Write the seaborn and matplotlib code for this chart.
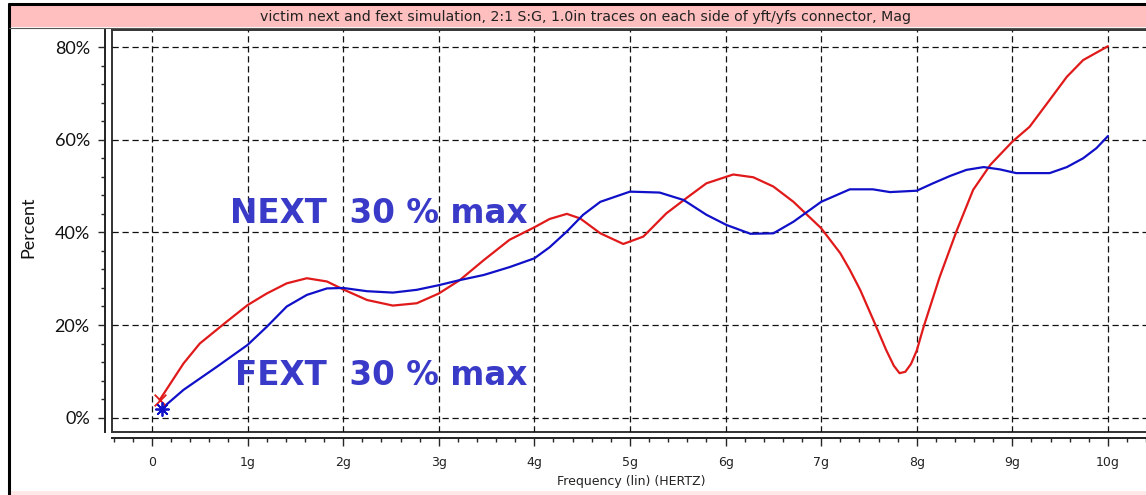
import numpy as np
import pandas as pd
import seaborn as sns
import matplotlib.pyplot as plt
from matplotlib.patches import Rectangle
from matplotlib.ticker import MultipleLocator, FuncFormatter

# curves (x in GHz, y in percent)
next_freq = [0.08, 0.33, 0.5, 0.78, 1.0, 1.2, 1.41, 1.62, 1.83, 2.0, 2.25, 2.52, 2.77, 3.0,
             3.22, 3.47, 3.74, 4.0, 4.16, 4.34, 4.48, 4.69, 4.93, 5.14, 5.38, 5.59, 5.8,
             6.08, 6.29, 6.5, 6.71, 7.0, 7.2, 7.3, 7.41, 7.56, 7.68, 7.76, 7.82, 7.88, 7.94,
             8.0, 8.07, 8.24, 8.42, 8.59, 8.77, 9.0, 9.18, 9.39, 9.57, 9.74, 10.0]
next_pct = [3.8, 11.7, 16.0, 20.7, 24.3, 26.8, 29.0, 30.1, 29.4, 27.7, 25.4, 24.2, 24.7, 26.8,
            29.7, 34.0, 38.4, 41.1, 42.9, 44.0, 43.0, 39.8, 37.5, 39.1, 44.1, 47.4, 50.6,
            52.5, 51.9, 49.9, 46.6, 40.9, 35.5, 31.9, 27.5, 20.4, 14.6, 11.2, 9.6, 9.9, 11.6,
            14.5, 19.5, 30.4, 40.5, 49.2, 54.6, 59.6, 62.8, 68.6, 73.6, 77.2, 80.2]

fext_freq = [0.1, 0.33, 0.68, 1.0, 1.2, 1.41, 1.62, 1.83, 2.0, 2.25, 2.52, 2.77, 3.0, 3.22,
             3.47, 3.74, 4.0, 4.16, 4.34, 4.51, 4.69, 5.0, 5.31, 5.56, 5.8, 6.01, 6.26, 6.5,
             6.71, 7.0, 7.3, 7.54, 7.72, 8.0, 8.17, 8.35, 8.52, 8.7, 8.87, 9.04, 9.39, 9.57,
             9.74, 9.88, 10.0]
fext_pct = [1.9, 6.0, 11.0, 15.7, 19.6, 24.0, 26.5, 27.9, 28.0, 27.3, 27.0, 27.6, 28.6, 29.7,
            30.8, 32.5, 34.4, 36.8, 40.2, 43.8, 46.6, 48.8, 48.6, 47.0, 43.8, 41.6, 39.7, 39.8,
            42.3, 46.6, 49.3, 49.3, 48.7, 49.0, 50.6, 52.2, 53.5, 54.1, 53.6, 52.8, 52.8, 54.1,
            56.0, 58.2, 60.8]

x_ticks = [0, 1, 2, 3, 4, 5, 6, 7, 8, 9, 10]
x_ticklabels = ['0', '1g', '2g', '3g', '4g', '5g', '6g', '7g', '8g', '9g', '10g']
y_ticks = [0, 20, 40, 60, 80]

title = 'victim next and fext simulation, 2:1 S:G, 1.0in traces on each side of yft/yfs connector, Mag'

df_next = pd.DataFrame({'freq': next_freq, 'pct': next_pct})
df_fext = pd.DataFrame({'freq': fext_freq, 'pct': fext_pct})

sns.set_style('white')
plt.rcParams['font.family'] = ['DejaVu Sans']

fig = plt.figure(figsize=(11.46, 4.95), dpi=100)
W, H = 1146, 495

# window decorations
fig.patches.append(Rectangle((9 / W, 1 - 27 / H), 1, 22 / H, transform=fig.transFigure,
                             facecolor='#ffbfbf', edgecolor='none', zorder=0))
fig.patches.append(Rectangle((9 / W, 0), 1, 4 / H, transform=fig.transFigure,
                             facecolor='#ffe8e8', edgecolor='none', zorder=0))
fig.add_artist(plt.Line2D([9 / W, 1], [1 - 4 / H, 1 - 4 / H], color='black', lw=2.2))
fig.add_artist(plt.Line2D([9 / W, 9 / W], [0, 1 - 4 / H], color='black', lw=2.2))
fig.add_artist(plt.Line2D([9 / W, 1], [1 - 27.5 / H, 1 - 27.5 / H], color='#555555', lw=0.8))
fig.text(586 / W, 1 - 17 / H, title, ha='center', va='center', fontsize=10.2, color='#222222')

rect = [112 / W, (H - 432) / H, (1151 - 112) / W, 402 / H]

# frame box
frame = fig.add_axes(rect, zorder=0)
frame.set_xticks([])
frame.set_yticks([])
for s in ['left', 'top', 'bottom']:
    frame.spines[s].set_linewidth(1.4)
    frame.spines[s].set_color('#333333')
frame.spines['right'].set_visible(False)

ax = fig.add_axes(rect, zorder=1)
ax.patch.set_alpha(0)

sns.lineplot(data=df_next, x='freq', y='pct', ax=ax, color='#e01a1a', lw=1.6,
             estimator=None, sort=False)
sns.lineplot(data=df_fext, x='freq', y='pct', ax=ax, color='#1010c8', lw=1.6,
             estimator=None, sort=False)
# start markers
sns.scatterplot(data=df_next.iloc[:1], x='freq', y='pct', ax=ax, color='#e01a1a',
                marker='x', s=70, linewidth=1.3, zorder=4)
sns.scatterplot(data=df_fext.iloc[:1], x='freq', y='pct', ax=ax, color='#1010c8',
                marker=(8, 2, 0), s=90, linewidth=1.3, zorder=5)

ax.set_xlim(-0.418, 10.45)
ax.set_ylim(-3.1, 83.7)

ax.xaxis.set_minor_locator(MultipleLocator(0.2))
ax.set_xticks(x_ticks)
ax.set_xticklabels(x_ticklabels)
ax.set_yticks(y_ticks)
ax.yaxis.set_minor_locator(MultipleLocator(4))
ax.yaxis.set_major_formatter(FuncFormatter(lambda v, p: '%d%%' % v))

ax.grid(True, which='major', color='#111111', lw=0.9, ls=(0, (5, 3)))

for s in ['top', 'right']:
    ax.spines[s].set_visible(False)
ax.spines['left'].set_position(('outward', 5))
ax.spines['bottom'].set_position(('outward', 4.5))
for s in ['left', 'bottom']:
    ax.spines[s].set_linewidth(1.4)
    ax.spines[s].set_color('#222222')

ax.tick_params(axis='y', which='major', direction='out', length=5, width=1, left=True,
               pad=6, labelsize=13, labelcolor='#111111')
ax.tick_params(axis='y', which='minor', direction='out', length=3, width=1, left=True)
ax.tick_params(axis='x', which='major', direction='out', length=6, width=1, bottom=True,
               pad=7, labelsize=9, labelcolor='#222222')
ax.tick_params(axis='x', which='minor', direction='out', length=3, width=1, bottom=True)
for lab in ax.get_yticklabels():
    lab.set_family(['Lato', 'DejaVu Sans'])

ax.set_xlabel('Frequency (lin) (HERTZ)', fontsize=9, color='#222222')
ax.xaxis.set_label_coords(0.5, -0.107)
ax.set_ylabel('Percent', fontsize=13, family=['Lato', 'DejaVu Sans'], color='#111111')
ax.yaxis.set_label_coords(-0.073, 0.509)

ax.text(0.82, 44.0, 'NEXT  30 % max', ha='left', va='center', fontsize=23.5,
        fontweight='bold', color='#3a3ac8')
ax.text(0.87, 9.0, 'FEXT  30 % max', ha='left', va='center', fontsize=23.5,
        fontweight='bold', color='#3a3ac8')

fig.savefig('out.png', dpi=100)
